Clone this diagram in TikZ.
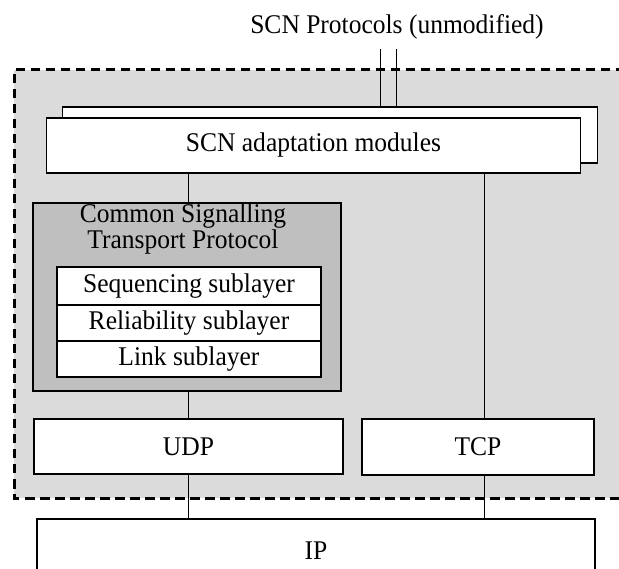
\documentclass[tikz,border=0pt]{standalone}
\usepackage{fontspec}
\setmainfont{Liberation Serif}[FakeStretch=0.945]
\begin{document}
\begin{tikzpicture}[x=1pt,y=-1pt,
  box/.style={draw=black,line width=1.2pt,fill=white,rectangle,inner sep=0pt},
  conn/.style={draw=black,line width=1pt},
  txt/.style={font=\fontsize{27}{23}\selectfont}]
\useasboundingbox (0,0) rectangle (619,569);
\clip (0,0) rectangle (619,569);
\fill[gray!28] (14,70) rectangle (640,498);
\draw[line width=3pt,dash pattern=on 9.5pt off 5.5pt] (640,70) -- (14,70) -- (14,498) -- (640,498);
\node[txt] (lbl) at (397,27) {SCN Protocols (unmodified)};
\node[box,minimum width=535pt,minimum height=56pt] (bk) at (330,135) {};
\node[box,minimum width=534pt,minimum height=55pt,txt] (scn) at (313.5,145.5) {SCN adaptation modules};
\coordinate (p1) at (380,49);
\coordinate (p2) at (396,49);
\draw[conn] (p1) -- (p1 |- bk.north);
\draw[conn] (p2) -- (p2 |- bk.north);
\node[box,fill=gray!50,minimum width=308pt,minimum height=188pt] (cstp) at (187,297) {};
\node[txt,align=center,inner sep=0pt] (cstpt) at (183,229) {Common Signalling\\Transport Protocol};
\node[box,minimum width=264pt,minimum height=38pt,txt] (seq) at (189,286) {Sequencing sublayer};
\node[box,minimum width=264pt,minimum height=36pt,txt] (rel) at (189,323) {Reliability sublayer};
\node[box,minimum width=264pt,minimum height=36pt,txt] (lnk) at (189,359) {Link sublayer};
\node[box,minimum width=309pt,minimum height=55pt,txt] (udp) at (188.5,446.5) {UDP};
\node[box,minimum width=232pt,minimum height=56pt,txt] (tcp) at (478,447) {TCP};
\node[box,minimum width=558pt,minimum height=82pt] (ip) at (316,560) {};
\node[txt] (iptxt) at (316,551) {IP};
\draw[conn] (scn.south -| 188,0) -- (cstp.north -| 188,0);
\draw[conn] (cstp.south -| 188,0) -- (udp.north -| 188,0);
\draw[conn] (scn.south -| 484,0) -- (tcp.north -| 484,0);
\draw[conn] (udp.south -| 188,0) -- (ip.north -| 188,0);
\draw[conn] (tcp.south -| 484,0) -- (ip.north -| 484,0);
\end{tikzpicture}
\end{document}
